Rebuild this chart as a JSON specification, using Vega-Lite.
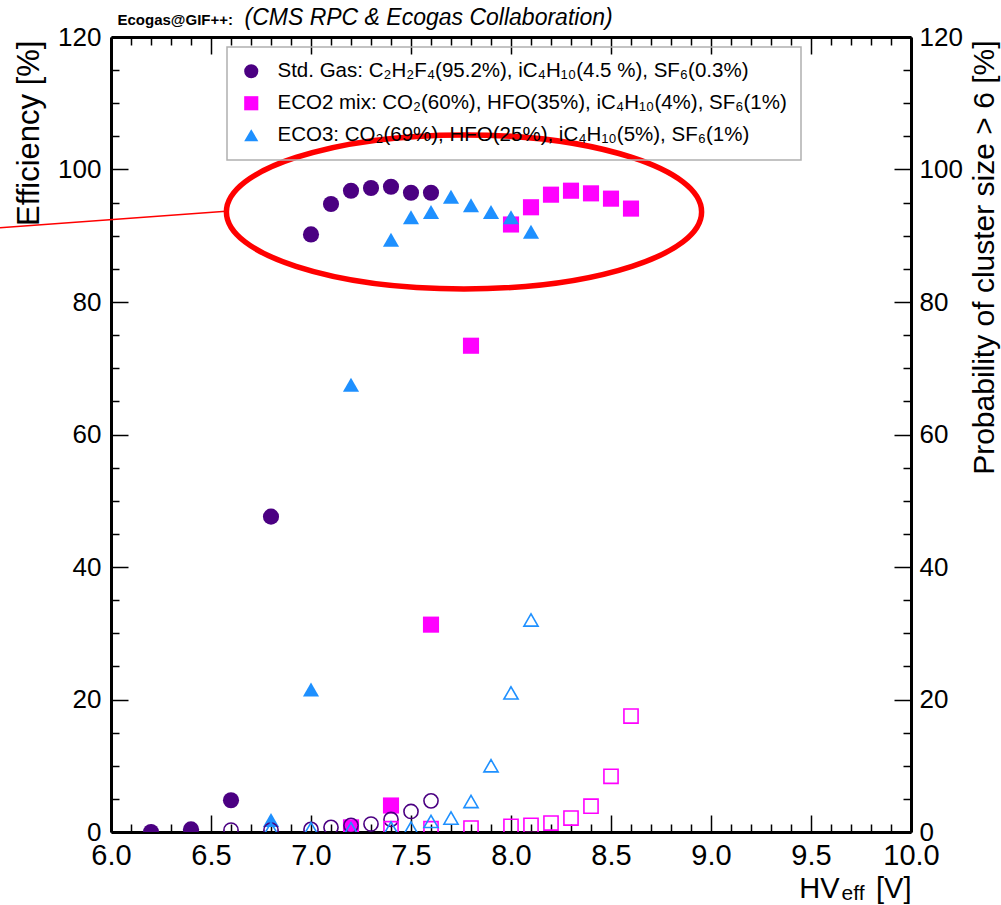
{
  "$schema": "https://vega.github.io/schema/vega-lite/v6.json",
  "width": 800,
  "height": 795,
  "autosize": "none",
  "padding": {"left": 111, "top": 37, "right": 90, "bottom": 73},
  "background": "white",
  "config": {
    "view": {"stroke": null},
    "font": "Liberation Sans",
    "axis": {
      "grid": false,
      "domainColor": "black",
      "domainWidth": 3,
      "tickColor": "black",
      "tickWidth": 1.5,
      "labelColor": "black",
      "titleColor": "black",
      "labelFont": "Liberation Sans",
      "titleFont": "Liberation Sans",
      "titleFontWeight": "normal",
      "labelFlush": false,
      "labelOverlap": false,
      "labelBound": false
    },
    "legend": {
      "orient": "none",
      "legendX": 116,
      "legendY": 10,
      "strokeColor": "#b0b0b0",
      "strokeWidth": 1.5,
      "padding": 14,
      "labelFont": "Liberation Sans",
      "labelFontSize": 20.5,
      "labelColor": "black",
      "labelLimit": 1000,
      "labelOffset": 16,
      "rowPadding": 11,
      "symbolSize": 200,
      "symbolStrokeWidth": 0,
      "title": null
    }
  },
  "datasets": {
    "eff": [
      {"hv": 6.2, "val": 0, "gas": "Std. Gas: C₂H₂F₄(95.2%), iC₄H₁₀(4.5 %), SF₆(0.3%)"},
      {"hv": 6.4, "val": 0.4, "gas": "Std. Gas: C₂H₂F₄(95.2%), iC₄H₁₀(4.5 %), SF₆(0.3%)"},
      {"hv": 6.6, "val": 4.8, "gas": "Std. Gas: C₂H₂F₄(95.2%), iC₄H₁₀(4.5 %), SF₆(0.3%)"},
      {"hv": 6.8, "val": 47.6, "gas": "Std. Gas: C₂H₂F₄(95.2%), iC₄H₁₀(4.5 %), SF₆(0.3%)"},
      {"hv": 7.0, "val": 90.2, "gas": "Std. Gas: C₂H₂F₄(95.2%), iC₄H₁₀(4.5 %), SF₆(0.3%)"},
      {"hv": 7.1, "val": 94.8, "gas": "Std. Gas: C₂H₂F₄(95.2%), iC₄H₁₀(4.5 %), SF₆(0.3%)"},
      {"hv": 7.2, "val": 96.8, "gas": "Std. Gas: C₂H₂F₄(95.2%), iC₄H₁₀(4.5 %), SF₆(0.3%)"},
      {"hv": 7.3, "val": 97.2, "gas": "Std. Gas: C₂H₂F₄(95.2%), iC₄H₁₀(4.5 %), SF₆(0.3%)"},
      {"hv": 7.4, "val": 97.4, "gas": "Std. Gas: C₂H₂F₄(95.2%), iC₄H₁₀(4.5 %), SF₆(0.3%)"},
      {"hv": 7.5, "val": 96.5, "gas": "Std. Gas: C₂H₂F₄(95.2%), iC₄H₁₀(4.5 %), SF₆(0.3%)"},
      {"hv": 7.6, "val": 96.5, "gas": "Std. Gas: C₂H₂F₄(95.2%), iC₄H₁₀(4.5 %), SF₆(0.3%)"},
      {"hv": 7.2, "val": 0.7, "gas": "ECO2 mix: CO₂(60%), HFO(35%), iC₄H₁₀(4%), SF₆(1%)"},
      {"hv": 7.4, "val": 4.0, "gas": "ECO2 mix: CO₂(60%), HFO(35%), iC₄H₁₀(4%), SF₆(1%)"},
      {"hv": 7.6, "val": 31.3, "gas": "ECO2 mix: CO₂(60%), HFO(35%), iC₄H₁₀(4%), SF₆(1%)"},
      {"hv": 7.8, "val": 73.4, "gas": "ECO2 mix: CO₂(60%), HFO(35%), iC₄H₁₀(4%), SF₆(1%)"},
      {"hv": 8.0, "val": 91.7, "gas": "ECO2 mix: CO₂(60%), HFO(35%), iC₄H₁₀(4%), SF₆(1%)"},
      {"hv": 8.1, "val": 94.3, "gas": "ECO2 mix: CO₂(60%), HFO(35%), iC₄H₁₀(4%), SF₆(1%)"},
      {"hv": 8.2, "val": 96.2, "gas": "ECO2 mix: CO₂(60%), HFO(35%), iC₄H₁₀(4%), SF₆(1%)"},
      {"hv": 8.3, "val": 96.8, "gas": "ECO2 mix: CO₂(60%), HFO(35%), iC₄H₁₀(4%), SF₆(1%)"},
      {"hv": 8.4, "val": 96.4, "gas": "ECO2 mix: CO₂(60%), HFO(35%), iC₄H₁₀(4%), SF₆(1%)"},
      {"hv": 8.5, "val": 95.6, "gas": "ECO2 mix: CO₂(60%), HFO(35%), iC₄H₁₀(4%), SF₆(1%)"},
      {"hv": 8.6, "val": 94.1, "gas": "ECO2 mix: CO₂(60%), HFO(35%), iC₄H₁₀(4%), SF₆(1%)"},
      {"hv": 6.8, "val": 1.8, "gas": "ECO3: CO₂(69%), HFO(25%), iC₄H₁₀(5%), SF₆(1%)"},
      {"hv": 7.0, "val": 21.5, "gas": "ECO3: CO₂(69%), HFO(25%), iC₄H₁₀(5%), SF₆(1%)"},
      {"hv": 7.2, "val": 67.5, "gas": "ECO3: CO₂(69%), HFO(25%), iC₄H₁₀(5%), SF₆(1%)"},
      {"hv": 7.4, "val": 89.4, "gas": "ECO3: CO₂(69%), HFO(25%), iC₄H₁₀(5%), SF₆(1%)"},
      {"hv": 7.5, "val": 92.8, "gas": "ECO3: CO₂(69%), HFO(25%), iC₄H₁₀(5%), SF₆(1%)"},
      {"hv": 7.6, "val": 93.6, "gas": "ECO3: CO₂(69%), HFO(25%), iC₄H₁₀(5%), SF₆(1%)"},
      {"hv": 7.7, "val": 95.9, "gas": "ECO3: CO₂(69%), HFO(25%), iC₄H₁₀(5%), SF₆(1%)"},
      {"hv": 7.8, "val": 94.6, "gas": "ECO3: CO₂(69%), HFO(25%), iC₄H₁₀(5%), SF₆(1%)"},
      {"hv": 7.9, "val": 93.6, "gas": "ECO3: CO₂(69%), HFO(25%), iC₄H₁₀(5%), SF₆(1%)"},
      {"hv": 8.0, "val": 92.8, "gas": "ECO3: CO₂(69%), HFO(25%), iC₄H₁₀(5%), SF₆(1%)"},
      {"hv": 8.1, "val": 90.6, "gas": "ECO3: CO₂(69%), HFO(25%), iC₄H₁₀(5%), SF₆(1%)"}
    ],
    "cls": [
      {"hv": 6.6, "val": 0.3, "gas": "Std. Gas: C₂H₂F₄(95.2%), iC₄H₁₀(4.5 %), SF₆(0.3%)"},
      {"hv": 6.8, "val": 0.3, "gas": "Std. Gas: C₂H₂F₄(95.2%), iC₄H₁₀(4.5 %), SF₆(0.3%)"},
      {"hv": 7.0, "val": 0.4, "gas": "Std. Gas: C₂H₂F₄(95.2%), iC₄H₁₀(4.5 %), SF₆(0.3%)"},
      {"hv": 7.1, "val": 0.7, "gas": "Std. Gas: C₂H₂F₄(95.2%), iC₄H₁₀(4.5 %), SF₆(0.3%)"},
      {"hv": 7.2, "val": 1.0, "gas": "Std. Gas: C₂H₂F₄(95.2%), iC₄H₁₀(4.5 %), SF₆(0.3%)"},
      {"hv": 7.3, "val": 1.2, "gas": "Std. Gas: C₂H₂F₄(95.2%), iC₄H₁₀(4.5 %), SF₆(0.3%)"},
      {"hv": 7.4, "val": 1.9, "gas": "Std. Gas: C₂H₂F₄(95.2%), iC₄H₁₀(4.5 %), SF₆(0.3%)"},
      {"hv": 7.5, "val": 3.1, "gas": "Std. Gas: C₂H₂F₄(95.2%), iC₄H₁₀(4.5 %), SF₆(0.3%)"},
      {"hv": 7.6, "val": 4.7, "gas": "Std. Gas: C₂H₂F₄(95.2%), iC₄H₁₀(4.5 %), SF₆(0.3%)"},
      {"hv": 7.4, "val": 0.5, "gas": "ECO2 mix: CO₂(60%), HFO(35%), iC₄H₁₀(4%), SF₆(1%)"},
      {"hv": 7.6, "val": 0.5, "gas": "ECO2 mix: CO₂(60%), HFO(35%), iC₄H₁₀(4%), SF₆(1%)"},
      {"hv": 7.8, "val": 0.6, "gas": "ECO2 mix: CO₂(60%), HFO(35%), iC₄H₁₀(4%), SF₆(1%)"},
      {"hv": 8.0, "val": 0.85, "gas": "ECO2 mix: CO₂(60%), HFO(35%), iC₄H₁₀(4%), SF₆(1%)"},
      {"hv": 8.1, "val": 1.0, "gas": "ECO2 mix: CO₂(60%), HFO(35%), iC₄H₁₀(4%), SF₆(1%)"},
      {"hv": 8.2, "val": 1.35, "gas": "ECO2 mix: CO₂(60%), HFO(35%), iC₄H₁₀(4%), SF₆(1%)"},
      {"hv": 8.3, "val": 2.1, "gas": "ECO2 mix: CO₂(60%), HFO(35%), iC₄H₁₀(4%), SF₆(1%)"},
      {"hv": 8.4, "val": 3.9, "gas": "ECO2 mix: CO₂(60%), HFO(35%), iC₄H₁₀(4%), SF₆(1%)"},
      {"hv": 8.5, "val": 8.4, "gas": "ECO2 mix: CO₂(60%), HFO(35%), iC₄H₁₀(4%), SF₆(1%)"},
      {"hv": 8.6, "val": 17.5, "gas": "ECO2 mix: CO₂(60%), HFO(35%), iC₄H₁₀(4%), SF₆(1%)"},
      {"hv": 6.8, "val": 0.5, "gas": "ECO3: CO₂(69%), HFO(25%), iC₄H₁₀(5%), SF₆(1%)"},
      {"hv": 7.0, "val": 0.5, "gas": "ECO3: CO₂(69%), HFO(25%), iC₄H₁₀(5%), SF₆(1%)"},
      {"hv": 7.2, "val": 0.5, "gas": "ECO3: CO₂(69%), HFO(25%), iC₄H₁₀(5%), SF₆(1%)"},
      {"hv": 7.4, "val": 0.6, "gas": "ECO3: CO₂(69%), HFO(25%), iC₄H₁₀(5%), SF₆(1%)"},
      {"hv": 7.5, "val": 0.6, "gas": "ECO3: CO₂(69%), HFO(25%), iC₄H₁₀(5%), SF₆(1%)"},
      {"hv": 7.6, "val": 1.6, "gas": "ECO3: CO₂(69%), HFO(25%), iC₄H₁₀(5%), SF₆(1%)"},
      {"hv": 7.7, "val": 2.1, "gas": "ECO3: CO₂(69%), HFO(25%), iC₄H₁₀(5%), SF₆(1%)"},
      {"hv": 7.8, "val": 4.6, "gas": "ECO3: CO₂(69%), HFO(25%), iC₄H₁₀(5%), SF₆(1%)"},
      {"hv": 7.9, "val": 10.0, "gas": "ECO3: CO₂(69%), HFO(25%), iC₄H₁₀(5%), SF₆(1%)"},
      {"hv": 8.0, "val": 21.0, "gas": "ECO3: CO₂(69%), HFO(25%), iC₄H₁₀(5%), SF₆(1%)"},
      {"hv": 8.1, "val": 32.0, "gas": "ECO3: CO₂(69%), HFO(25%), iC₄H₁₀(5%), SF₆(1%)"}
    ],
    "ellipse": [{"hv": 7.765, "val": 93.6}],
    "pointer": [{"hv": 5.445, "val": 91.2, "hv2": 6.575, "val2": 93.7}]
  },
  "resolve": {"axis": {"x": "independent", "y": "independent"}},
  "layer": [
    {
      "data": {"name": "eff"},
      "mark": {"type": "point", "filled": true, "size": 260, "opacity": 1, "clip": true},
      "encoding": {
        "x": {"field": "hv", "type": "quantitative",
          "scale": {"domain": [6, 10], "nice": false, "zero": false},
          "axis": {"orient": "bottom", "values": [6, 6.5, 7, 7.5, 8, 8.5, 9, 9.5, 10], "format": ".1f",
            "tickSize": -17, "labelPadding": 26, "labelFontSize": 29,
            "title": "[V]", "titleX": 800, "titleY": 65, "titleAlign": "right", "titleBaseline": "alphabetic", "titleFontSize": 29}},
        "y": {"field": "val", "type": "quantitative",
          "scale": {"domain": [0, 120], "nice": false, "zero": false},
          "axis": {"orient": "left", "values": [0, 20, 40, 60, 80, 100, 120],
            "tickSize": -17, "labelPadding": 27, "labelFontSize": 26,
            "title": "Efficiency [%]", "titleX": -73, "titleY": 3, "titleAngle": -90, "titleAlign": "right", "titleBaseline": "alphabetic", "titleFontSize": 31}},
        "color": {"field": "gas", "type": "nominal",
          "scale": {"domain": ["Std. Gas: C₂H₂F₄(95.2%), iC₄H₁₀(4.5 %), SF₆(0.3%)", "ECO2 mix: CO₂(60%), HFO(35%), iC₄H₁₀(4%), SF₆(1%)", "ECO3: CO₂(69%), HFO(25%), iC₄H₁₀(5%), SF₆(1%)"],
            "range": ["#4b0082", "#ff00ff", "#1e90ff"]}},
        "shape": {"field": "gas", "type": "nominal",
          "scale": {"domain": ["Std. Gas: C₂H₂F₄(95.2%), iC₄H₁₀(4.5 %), SF₆(0.3%)", "ECO2 mix: CO₂(60%), HFO(35%), iC₄H₁₀(4%), SF₆(1%)", "ECO3: CO₂(69%), HFO(25%), iC₄H₁₀(5%), SF₆(1%)"],
            "range": ["circle", "square", "triangle-up"]}}
      }
    },
    {
      "data": {"name": "cls"},
      "mark": {"type": "point", "filled": false, "size": 200, "strokeWidth": 1.6, "opacity": 1, "clip": true},
      "encoding": {
        "x": {"field": "hv", "type": "quantitative",
          "scale": {"domain": [6, 10], "nice": false, "zero": false},
          "axis": {"orient": "top", "values": [6, 6.5, 7, 7.5, 8, 8.5, 9, 9.5, 10], "labels": false,
            "tickSize": -17,
            "title": "(CMS RPC & Ecogas Collaboration)", "titleX": 133, "titleY": -13, "titleAlign": "left", "titleBaseline": "alphabetic", "titleFontSize": 23, "titleFontStyle": "italic"}},
        "y": {"field": "val", "type": "quantitative",
          "scale": {"domain": [0, 120], "nice": false, "zero": false},
          "axis": {"orient": "right", "values": [0, 20, 40, 60, 80, 100, 120],
            "tickSize": -17, "labelPadding": 25, "labelFontSize": 26,
            "title": "Probability of cluster size > 6 [%]", "titleX": 82, "titleY": 3, "titleAngle": -90, "titleAlign": "right", "titleBaseline": "alphabetic", "titleFontSize": 30}},
        "color": {"field": "gas", "type": "nominal"},
        "shape": {"field": "gas", "type": "nominal"}
      }
    },
    {
      "data": {"name": "ellipse"},
      "mark": {"type": "point", "shape": "M -1 0 A 1 0.324 0 1 1 1 0 A 1 0.324 0 1 1 -1 0 Z", "size": 225800, "filled": false, "color": "#ff0000", "stroke": "#ff0000", "strokeWidth": 5.5, "opacity": 1, "clip": false},
      "encoding": {
        "x": {"field": "hv", "type": "quantitative",
          "scale": {"domain": [6, 10], "nice": false, "zero": false},
          "axis": {"orient": "bottom", "values": [6.1, 6.2, 6.3, 6.4, 6.6, 6.7, 6.8, 6.9, 7.1, 7.2, 7.3, 7.4, 7.6, 7.7, 7.8, 7.9, 8.1, 8.2, 8.3, 8.4, 8.6, 8.7, 8.8, 8.9, 9.1, 9.2, 9.3, 9.4, 9.6, 9.7, 9.8, 9.9],
            "labels": false, "domain": false, "tickSize": -8,
            "title": "HV", "titleX": 728, "titleY": 65, "titleAlign": "right", "titleBaseline": "alphabetic", "titleFontSize": 29}},
        "y": {"field": "val", "type": "quantitative",
          "scale": {"domain": [0, 120], "nice": false, "zero": false},
          "axis": {"orient": "left", "values": [5, 10, 15, 25, 30, 35, 45, 50, 55, 65, 70, 75, 85, 90, 95, 105, 110, 115],
            "labels": false, "domain": false, "tickSize": -8,
            "title": "eff", "titleAngle": 0, "titleX": 730, "titleY": 862, "titleAlign": "left", "titleBaseline": "alphabetic", "titleFontSize": 21}}
      }
    },
    {
      "data": {"name": "pointer"},
      "mark": {"type": "rule", "color": "#ff0000", "strokeWidth": 1.5, "clip": false},
      "encoding": {
        "x": {"field": "hv", "type": "quantitative",
          "scale": {"domain": [6, 10], "nice": false, "zero": false},
          "axis": {"orient": "top", "values": [6.1, 6.2, 6.3, 6.4, 6.6, 6.7, 6.8, 6.9, 7.1, 7.2, 7.3, 7.4, 7.6, 7.7, 7.8, 7.9, 8.1, 8.2, 8.3, 8.4, 8.6, 8.7, 8.8, 8.9, 9.1, 9.2, 9.3, 9.4, 9.6, 9.7, 9.8, 9.9],
            "labels": false, "domain": false, "tickSize": -8,
            "title": "Ecogas@GIF++:", "titleX": 6, "titleY": -13, "titleAlign": "left", "titleBaseline": "alphabetic", "titleFontSize": 15, "titleFontWeight": "bold"}},
        "y": {"field": "val", "type": "quantitative",
          "scale": {"domain": [0, 120], "nice": false, "zero": false},
          "axis": {"orient": "right", "values": [5, 10, 15, 25, 30, 35, 45, 50, 55, 65, 70, 75, 85, 90, 95, 105, 110, 115],
            "labels": false, "domain": false, "tickSize": -8, "title": null}},
        "x2": {"field": "hv2"},
        "y2": {"field": "val2"}
      }
    }
  ]
}
